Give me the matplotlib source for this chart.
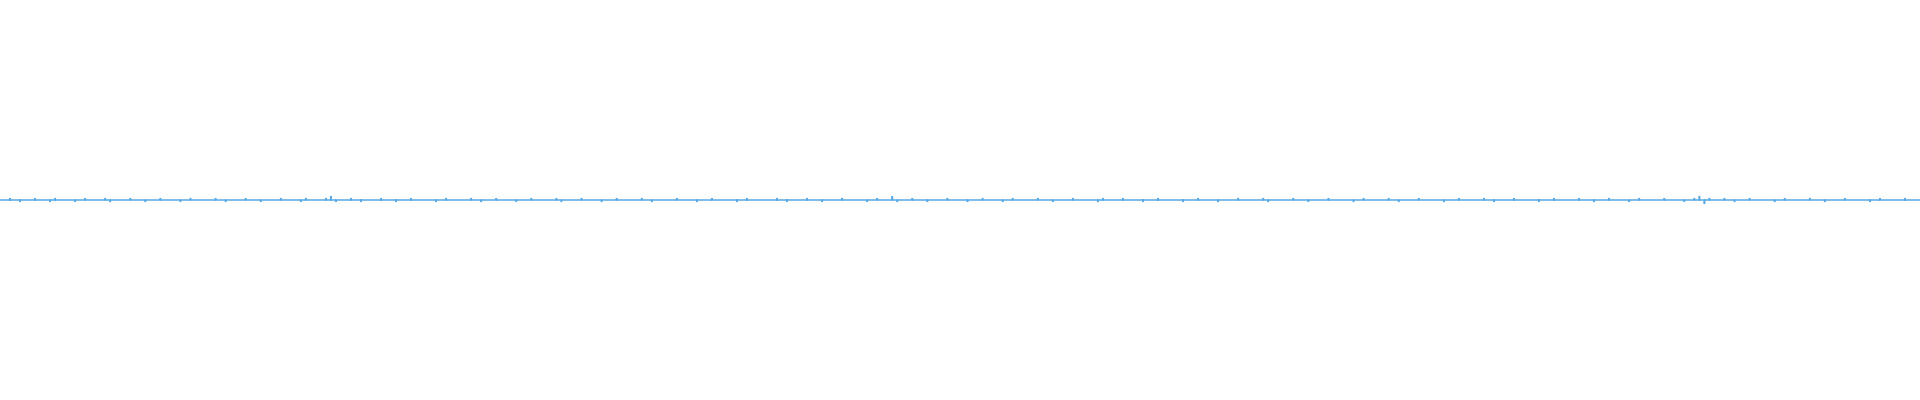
import matplotlib
matplotlib.use('Agg')
import matplotlib.pyplot as plt

# waveform samples (tiny spikes around a flat baseline)
SAMPLES = [
    0, 0, 1, 0, -1, 0, 0, 1, 0, 0, -1, 1, 0, 0, 0, -1, 0, 1, 0, 0, 0, 1, -1, 0, 0, 0, 1, 0, 0, -1, 0, 0,
    1, 0, 0, 0, -1, 0, 1, 0, 0, 0, 0, 1, 0, -1, 0, 0, 0, 1, 0, 0, -1, 0, 0, 0, 1, 0, 0, 0, -1, 1, 0, 0,
    0, 1, 2, -1, 0, 0, 1, 0, -1, 0, 0, 0, 1, 0, 0, -1, 0, 0, 1, 0, 0, 0, 0, -1, 0, 1, 0, 0, 0, 0, 1, 0,
    -1, 0, 0, 1, 0, 0, 0, -1, 0, 0, 1, 0, 0, 0, 0, 1, -1, 0, 0, 0, 1, 0, 0, 0, -1, 0, 0, 1, 0, 0, 0, 0,
    1, 0, -1, 0, 0, 0, 0, 1, 0, 0, 0, -1, 0, 0, 1, 0, 0, 0, 0, -1, 0, 1, 0, 0, 0, 0, 0, 1, 0, -1, 0, 0,
    0, 1, 0, 0, -1, 0, 0, 0, 1, 0, 0, 0, 0, -1, 0, 1, 0, 0, 2, -1, 0, 0, 1, 0, 0, -1, 0, 0, 0, 1, 0, 0,
    0, -1, 0, 0, 1, 0, 0, 0, -1, 0, 1, 0, 0, 0, 0, 1, 0, 0, -1, 0, 0, 0, 1, 0, 0, 0, 0, -1, 1, 0, 0, 0,
    1, 0, 0, 0, -1, 0, 0, 1, 0, 0, 0, 0, -1, 0, 0, 1, 0, 0, 0, -1, 0, 0, 0, 1, 0, 0, 0, 0, 1, -1, 0, 0,
    0, 0, 1, 0, 0, -1, 0, 0, 0, 1, 0, 0, 0, 0, -1, 0, 1, 0, 0, 0, 0, 1, 0, -1, 0, 0, 0, 1, 0, 0, 0, 0,
    -1, 0, 0, 1, 0, 0, 0, 0, 1, 0, -1, 0, 0, 0, 1, 0, 0, 0, 0, -1, 0, 0, 1, 0, 0, 0, 0, 1, 0, 0, -1, 0,
    0, 1, 0, 0, 0, -1, 0, 1, 0, 0, 0, 0, 1, 0, 0, 0, -1, 0, 1, 2, -2, 1, 0, 0, 1, 0, -1, 0, 0, 1, 0, 0,
    0, 0, -1, 0, 1, 0, 0, 0, 0, 1, 0, 0, -1, 0, 0, 0, 1, 0, 0, 0, 0, -1, 0, 1, 0, 0, 0, 0, 1, 0, 0, 0,
]
LINE_COLOR = '#5aaae6'
SPIKE_SCALE = 2.0


def create_graph():
    fig = plt.figure(figsize=(19.2, 4.0), dpi=100)
    ax = fig.add_axes([0, 0, 1, 1])
    # each sample drawn as a narrow spike on the baseline
    xs, ys = [], []
    for i, s in enumerate(SAMPLES):
        xs += [i - 0.08, i, i + 0.08]
        ys += [0, s * SPIKE_SCALE, 0]
    ax.plot(xs, ys, color=LINE_COLOR, linewidth=1.1, solid_joinstyle='miter')
    ax.set_xlim(0, len(SAMPLES) - 1)
    ax.set_ylim(-200, 200)
    ax.axis('off')
    fig.savefig('out.png', format='png')


if __name__ == '__main__':
    create_graph()
